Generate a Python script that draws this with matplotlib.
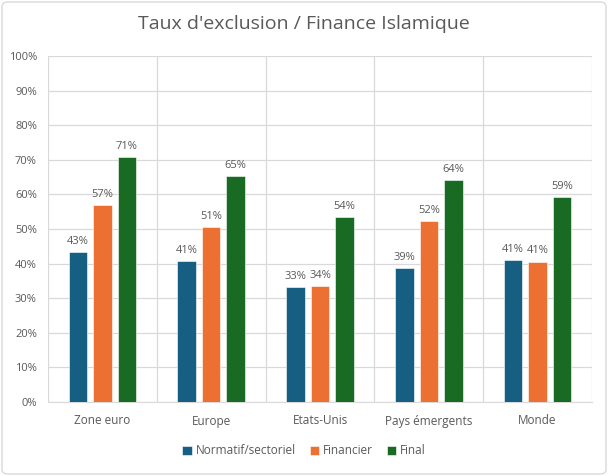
import matplotlib
matplotlib.use("Agg")
import matplotlib.pyplot as plt
import numpy as np
from matplotlib.patches import FancyBboxPatch

categories = ["Zone euro", "Europe", "Etats-Unis", "Pays émergents", "Monde"]
series_names = ["Normatif/sectoriel", "Financier", "Final"]
normatif = [0.434, 0.408, 0.332, 0.387, 0.411]
financier = [0.570, 0.506, 0.335, 0.523, 0.406]
final = [0.708, 0.653, 0.535, 0.642, 0.592]
colors = ["#175e83", "#ec7032", "#196b24"]
yticks = [0, 0.1, 0.2, 0.3, 0.4, 0.5, 0.6, 0.7, 0.8, 0.9, 1.0]

plt.rcParams['font.family'] = ['Open Sans', 'DejaVu Sans']

fig = plt.figure(figsize=(6.08, 4.76), dpi=100)
ax = fig.add_axes([48/608, 1 - 402/476, 544/608, 346/476])

x = np.arange(len(categories))
w = 0.17
step = 0.225
for i, (vals, name, c) in enumerate(zip([normatif, financier, final], series_names, colors)):
    bars = ax.bar(x + (i - 1) * step, vals, width=w, color=c, label=name, zorder=3,
                  edgecolor="white", linewidth=0.4)
    for b, v in zip(bars, vals):
        ax.text(b.get_x() + b.get_width() / 2, v + 0.015, f"{v:.0%}", ha="center", va="bottom",
                fontsize=8, color="#595959")

ax.set_xlim(-0.5, len(categories) - 0.5)
ax.set_ylim(0, 1.0)
ax.set_yticks(yticks)
ax.set_yticklabels([f"{t:.0%}" for t in yticks], fontsize=8, color="#595959")
ax.set_xticks(x)
ax.set_xticklabels(categories, fontsize=8.5, color="#595959")
ax.set_xticks(np.arange(len(categories) + 1) - 0.5, minor=True)
ax.tick_params(axis="both", which="both", length=0)
ax.tick_params(axis="y", pad=8)
ax.tick_params(axis="x", pad=9)
ax.grid(axis="y", color="#d9d9d9", linewidth=0.9, zorder=0)
ax.grid(axis="x", which="minor", color="#d9d9d9", linewidth=0.9, zorder=0)
for s in ["top", "right", "left"]:
    ax.spines[s].set_visible(False)
ax.spines["bottom"].set_color("#d9d9d9")

fig.text(0.5, 1 - 24/476, "Taux d'exclusion / Finance Islamique", ha="center", va="center",
         fontsize=14, color="#595959")

leg = fig.legend(loc="center", bbox_to_anchor=(0.5, 1 - 451/476), ncol=3, frameon=False,
                 fontsize=8.5, handlelength=0.8, handleheight=0.8, columnspacing=1.2,
                 handletextpad=0.3, labelcolor="#595959")

border = FancyBboxPatch((2/608, 2/476), 1 - 4/608, 1 - 4/476, boxstyle="round,pad=0,rounding_size=0.01",
                        transform=fig.transFigure, fill=False, edgecolor="#d9d9d9", linewidth=1)
fig.patches.append(border)

fig.savefig("out.png", dpi=100)
